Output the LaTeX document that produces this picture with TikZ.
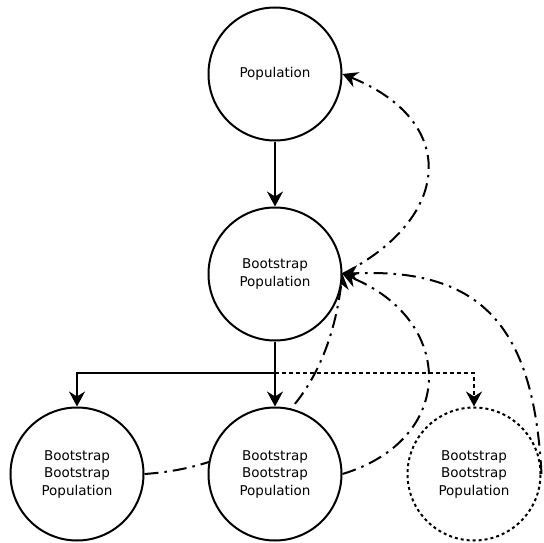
\documentclass[tikz,border=0pt]{standalone}
\usepackage{fontspec}
\setmainfont{DejaVu Sans}
\usetikzlibrary{arrows.meta,backgrounds}
\begin{document}
\begin{tikzpicture}[x=1pt,y=1pt,
  popnode/.style={circle,draw,line width=2pt,fill=white,minimum size=133pt,inner sep=0pt,align=center,
    font=\fontsize{13.5}{17.5}\selectfont},
  dotnode/.style={popnode,dash pattern=on 3pt off 3pt},
  tip/.style={-{Stealth[length=15pt,width=16pt,inset=5pt]}},
  solidarrow/.style={tip,line width=2pt},
  dottedarrow/.style={tip,line width=2pt,dash pattern=on 4pt off 3pt},
  dashdot/.style={tip,line width=2pt,dash pattern=on 14pt off 6pt on 2.5pt off 6pt}
]
\useasboundingbox (0,0) rectangle (544,-543);
\node[popnode] (pop) at (275,-74) {Population};
\node[popnode] (bp) at (275,-274) {Bootstrap\\Population};
\node[popnode] (bl) at (77,-474) {Bootstrap\\Bootstrap\\Population};
\node[popnode] (bm) at (275,-474) {Bootstrap\\Bootstrap\\Population};
\node[dotnode] (br) at (474,-474) {Bootstrap\\Bootstrap\\Population};
\coordinate (split) at (275,-373);
\draw[solidarrow] (pop.south) -- (bp.north);
\draw[solidarrow] (bp.south) -- (bm.north);
\draw[solidarrow] (split) -| (bl.north);
\draw[dottedarrow] (split) -| (br.north);
\draw[dashdot] (bp.east) to[out=27,in=-22,looseness=1.6] (pop.east);
\begin{scope}[on background layer]
\draw[dashdot] (bl.east) to[out=4,in=-97,looseness=1.1] (bp.east);
\end{scope}
\draw[dashdot] (bm.east) to[out=17,in=-22,looseness=1.55] (bp.east);
\draw[dashdot] (br.east) to[out=93,in=3,looseness=1.3] (bp.east);
\end{tikzpicture}
\end{document}
